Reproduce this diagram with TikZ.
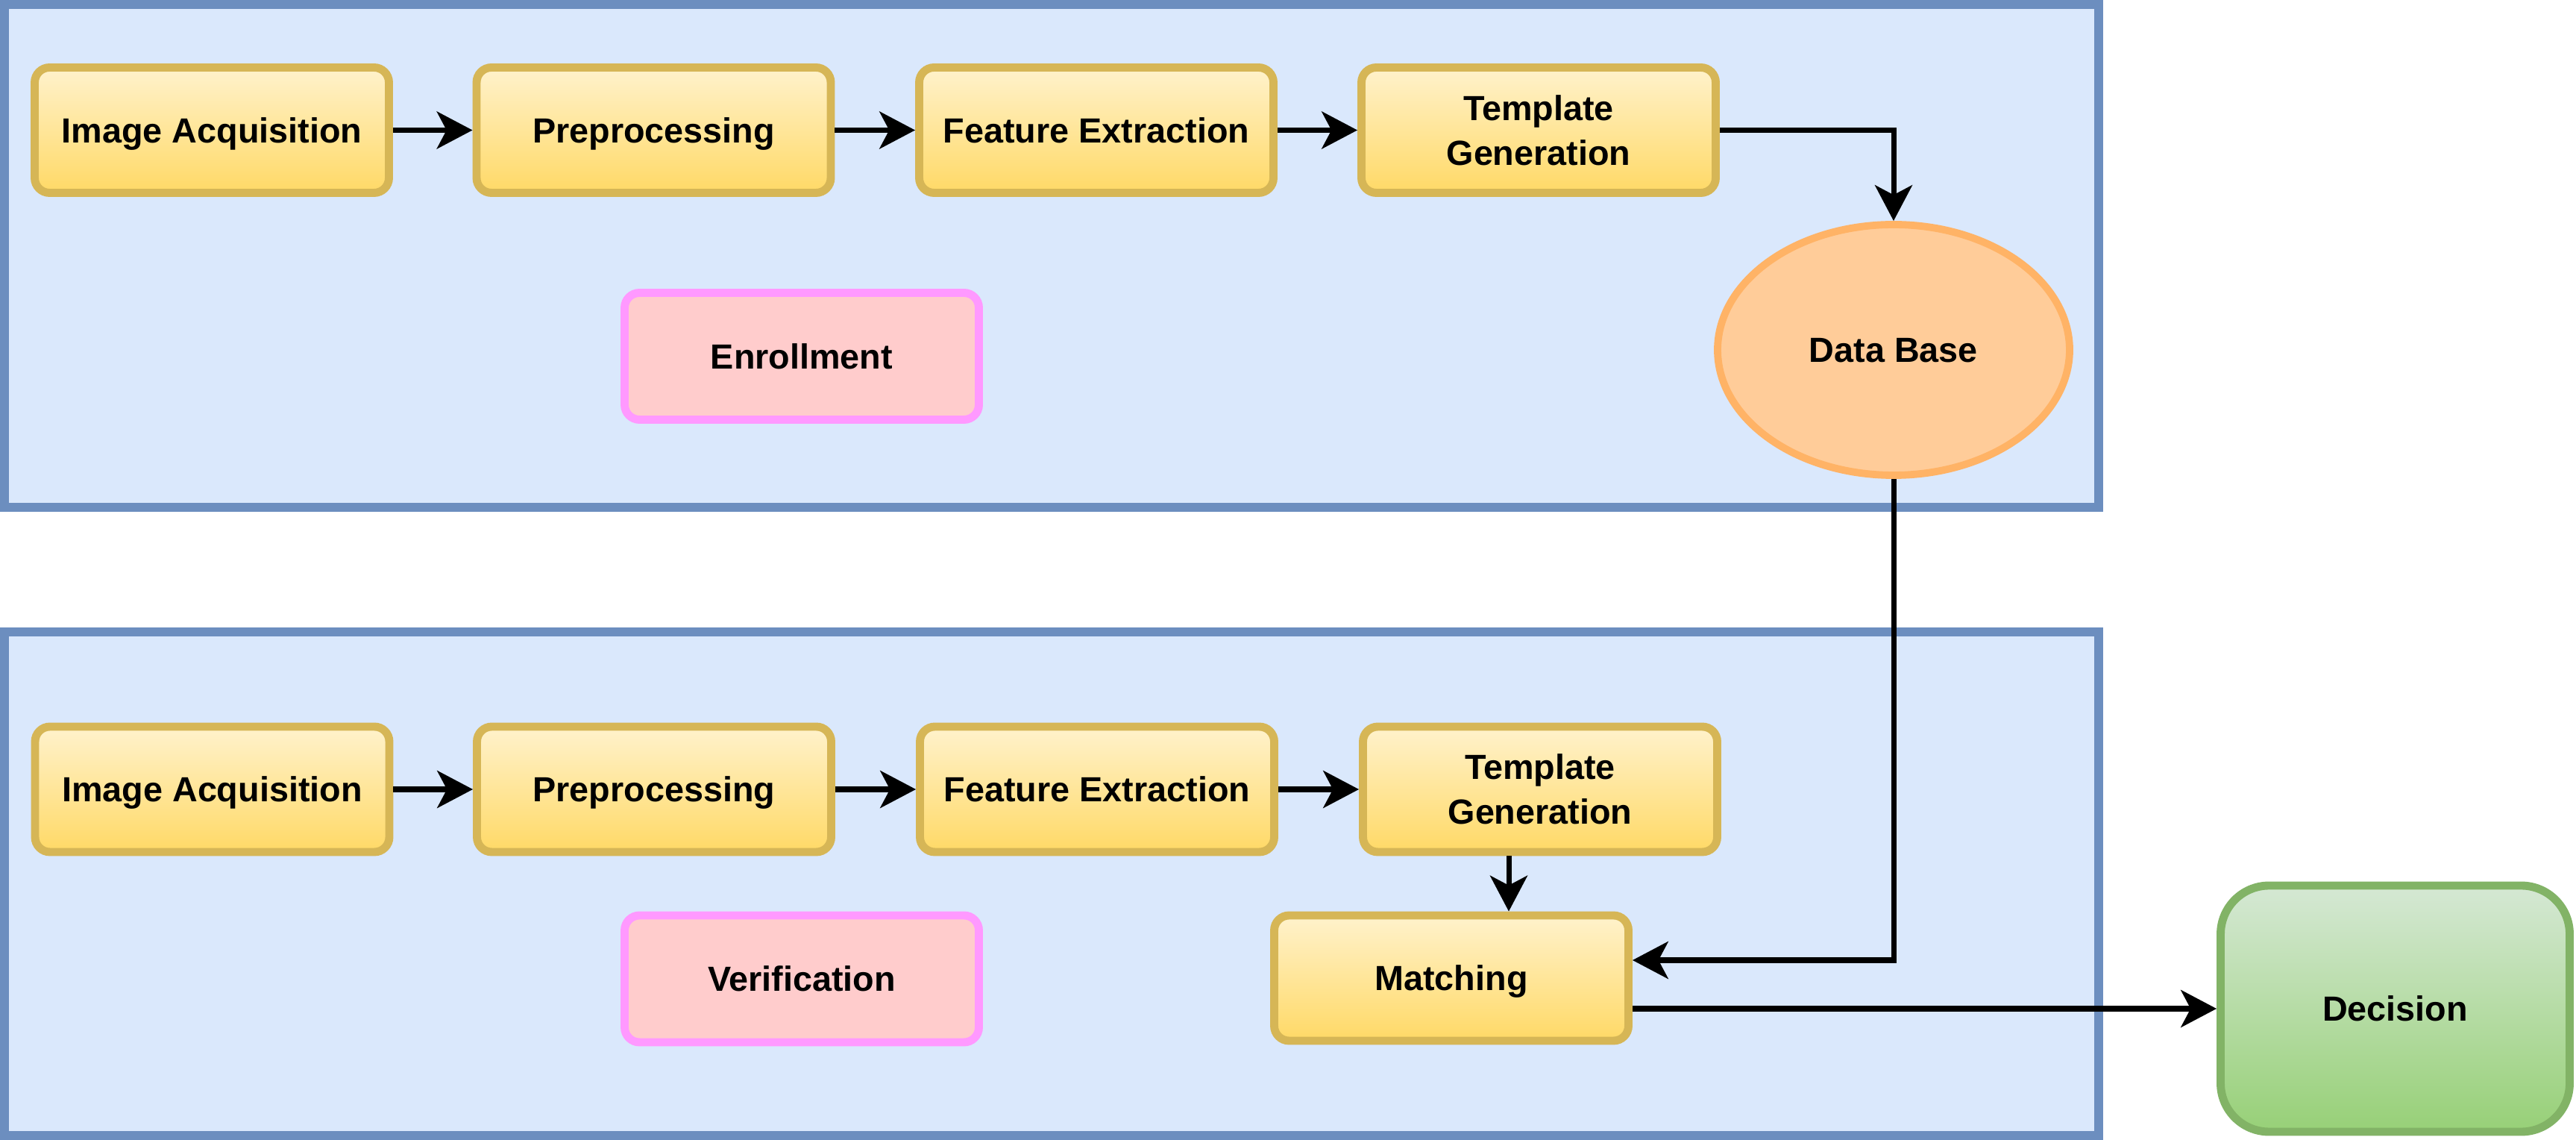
\documentclass[tikz,border=0pt]{standalone}
\usepackage{fontspec}
\setmainfont{Liberation Sans}
\usetikzlibrary{arrows.meta,shapes.geometric,calc}
\definecolor{panelfill}{HTML}{DAE8FC}
\definecolor{panelline}{HTML}{6C8EBF}
\definecolor{ytop}{HTML}{FFF2CC}
\definecolor{ybot}{HTML}{FFD966}
\definecolor{yline}{HTML}{D6B656}
\definecolor{pfill}{HTML}{FFCCCC}
\definecolor{pline}{HTML}{FF99FF}
\definecolor{ofill}{HTML}{FFCC99}
\definecolor{oline}{HTML}{FFB366}
\definecolor{gtop}{HTML}{D5E8D4}
\definecolor{gbot}{HTML}{97D077}
\definecolor{gline}{HTML}{82B366}
\tikzset{
  lbl/.style={font=\fontsize{13.3}{17}\selectfont\bfseries, text height=9.5pt, text depth=0pt, align=center},
  twoline/.style={text height=26.5pt},
  panel/.style={draw=panelline, fill=panelfill, line width=3.4pt},
  stepbox/.style={lbl, draw=yline, top color=ytop, bottom color=ybot, line width=3.1pt,
    rounded corners=0.2cm, minimum width=4.75cm, minimum height=1.68cm, inner sep=2pt},
  tagbox/.style={lbl, draw=pline, fill=pfill, line width=3.1pt,
    rounded corners=0.2cm, minimum width=4.75cm, minimum height=1.7cm},
  dbnode/.style={lbl, ellipse, draw=oline, fill=ofill, line width=2.8pt,
    minimum width=4.72cm, minimum height=3.36cm, inner sep=0pt},
  decbox/.style={lbl, draw=gline, top color=gtop, bottom color=gbot, line width=3.1pt,
    rounded corners=0.65cm, minimum width=4.68cm, minimum height=3.3cm},
  conn/.style={line width=2pt, -{Stealth[length=13.6pt, width=14.2pt, inset=3.7pt]}}
}
\begin{document}
\begin{tikzpicture}
\useasboundingbox (0,0) rectangle (34.54,-15.28);
% panels
\path[panel] (0.06,-0.06) rectangle (28.14,-6.80);
\path[panel] (0.06,-8.47) rectangle (28.14,-15.22);
% enrollment row
\node[stepbox] (ia1) at (2.84,-1.745) {Image Acquisition};
\node[stepbox] (pp1) at (8.765,-1.745) {Preprocessing};
\node[stepbox] (fe1) at (14.70,-1.745) {Feature Extraction};
\node[stepbox, twoline] (tg1) at (20.63,-1.745) {Template\\Generation};
\node[tagbox] (enr) at (10.75,-4.775) {Enrollment};
\node[dbnode] (db) at (25.39,-4.69) {Data Base};
% verification row
\node[stepbox] (ia2) at (2.845,-10.58) {Image Acquisition};
\node[stepbox] (pp2) at (8.77,-10.58) {Preprocessing};
\node[stepbox] (fe2) at (14.71,-10.58) {Feature Extraction};
\node[stepbox, twoline] (tg2) at (20.65,-10.58) {Template\\Generation};
\node[tagbox] (ver) at (10.75,-13.12) {Verification};
\node[stepbox] (mat) at (19.46,-13.11) {Matching};
\node[decbox] (dec) at (32.115,-13.52) {Decision};
% connectors
\draw[conn] (ia1) -- (pp1);
\draw[conn] (pp1) -- (fe1);
\draw[conn] (fe1) -- (tg1);
\draw[conn] (tg1.east) -| (db.north);
\draw[conn] (ia2) -- (pp2);
\draw[conn] (pp2) -- (fe2);
\draw[conn] (fe2) -- (tg2);
\draw[conn] ([xshift=-0.42cm]tg2.south) -- ([xshift=-0.42cm]tg2.south |- mat.north);
\draw[conn] (db.south) |- ([yshift=0.24cm]mat.east);
\draw[conn] ([yshift=-0.41cm]mat.east) -- ([yshift=-0.41cm]mat.east -| dec.west);
\end{tikzpicture}
\end{document}
